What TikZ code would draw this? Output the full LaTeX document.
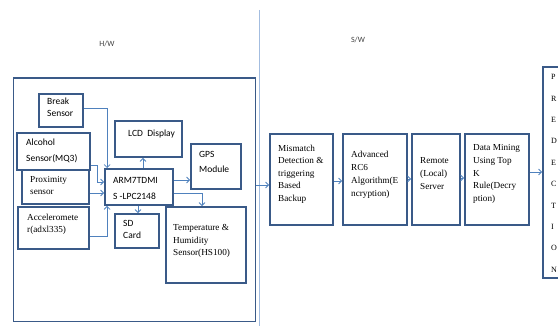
\documentclass[tikz,border=0pt]{standalone}
\usepackage{fontspec}
\setmainfont{Liberation Serif}
\newfontfamily\sansf{Carlito}
\usetikzlibrary{arrows.meta,fit}
\definecolor{boxc}{HTML}{3A5A88}
\definecolor{arrc}{HTML}{4F81BD}
\definecolor{sepc}{HTML}{A3BDE0}
\begin{document}
\begin{tikzpicture}[x=1pt,y=-1pt,
 box/.style={draw=boxc,line width=1.8pt,fill=white,inner sep=0pt},
 sft/.style={font=\sansf\fontsize{9.5}{12}\selectfont,align=left,inner sep=0pt,anchor=north west},
 rmt/.style={font=\fontsize{9.2}{12.5}\selectfont,align=left,inner sep=0pt,anchor=north west},
 lbl/.style={font=\sansf\fontsize{8}{10}\selectfont,text=black!75,inner sep=0pt},
 arr/.style={draw=arrc,line width=0.8pt,-{Straight Barb[length=3pt,width=6pt]}}]
\useasboundingbox (0,0) rectangle (558,326);
\clip (0,0) rectangle (558,326);

% section labels and separator
\node[lbl] (hwl) at (107,44) {H/W};
\node[lbl] (swl) at (358,40) {S/W};
\coordinate (septop) at (259.5,10);
\coordinate (sepbot) at (259.5,330);
\draw[sepc,line width=1.5pt] (septop) -- (sepbot);

% hardware
\node[box,fit={(13.5,78) (255.5,321.5)}] (hw) {};
\node[box,fit={(39,94) (83,127)}] (brk) {};
\node[box,fit={(115,121) (182,157)}] (lcd) {};
\node[box,fit={(22,165) (89,204)}] (prox) {};
\node[box,fit={(17,133) (90,170)}] (alc) {};
\node[box,fit={(18,207) (89,249)}] (acc) {};
\node[box,fit={(105,169) (173,205)}] (arm) {};
\node[box,fit={(191,144) (241,189)}] (gps) {};
\node[box,fit={(115,214) (159,248)}] (sd) {};
\node[box,fit={(166,207) (246,283)}] (tmp) {};

\node[sft] (brkt) at (47,98) {Break\\Sensor};
\node[sft] (lcdt) at (128,130) {LCD\ \ Display};
\node[sft,font=\sansf\fontsize{9.5}{16}\selectfont] (alct) at (26,139) {Alcohol\\Sensor(MQ3)};
\node[rmt,font=\fontsize{9.2}{12}\selectfont] (proxt) at (30,176.5) {Proximity\\sensor};
\node[rmt,font=\fontsize{9.2}{12}\selectfont] (acct) at (27,213.5) {Acceleromete\\r(adxl335)};
\node[sft,font=\sansf\fontsize{9.5}{16}\selectfont] (armt) at (113,177) {ARM7TDMI\\S -LPC2148};
\node[sft,font=\sansf\fontsize{9.5}{15}\selectfont] (gpst) at (199,151) {GPS\\Module};
\node[sft] (sdt) at (123,220) {SD\\Card};
\node[rmt] (tmpt) at (173,224.5) {Temperature \&\\Humidity\\Sensor(HS100)};

\draw[arr] (brk.east |- 0,108) -| ([xshift=3pt]arm.north west);
\draw[arr] (alc.east |- 0,165) -- (97,165) |- (arm.west |- 0,182);
\draw[arr] (prox.east |- 0,193) -- (arm.west |- 0,193);
\draw[arr] (acc.east |- 0,236) -| ([xshift=3pt]arm.south west);
\draw[arr] (arm.north -| 143,0) -- (lcd.south -| 143,0);
\draw[arr] (arm.east |- 0,180) -- (gps.west |- 0,180);
\draw[arr] (arm.east |- 0,193) -| (tmp.north -| 202,0);
\draw[arr] (arm.south -| 138,0) -- (sd.north -| 138,0);

% software
\node[box,fit={(270,134) (333,225)}] (mm) {};
\node[box,fit={(343,134) (407,225)}] (rc) {};
\node[box,fit={(412,134) (460,225)}] (rem) {};
\node[box,fit={(465,134) (529,225)}] (dm) {};
\node[box,fit={(543,67) (575,278)}] (pred) {};

\node[rmt] (mmt) at (278,144.5) {Mismatch\\Detection \&\\triggering\\Based\\Backup};
\node[rmt,font=\fontsize{9.2}{13}\selectfont] (rct) at (351,150.5) {Advanced\\RC6\\Algorithm(E\\ncryption)};
\node[rmt,font=\fontsize{9.2}{13}\selectfont] (remt) at (420,157.5) {Remote\\(Local)\\Server};
\node[rmt,font=\fontsize{9.2}{12.7}\selectfont] (dmt) at (473,144.5) {Data Mining\\Using Top\\K\\Rule(Decry\\ption)};
\node[rmt,font=\fontsize{8}{21.4}\selectfont] (predt) at (551,74.3) {P\\R\\E\\D\\E\\C\\T\\I\\O\\N};

\draw[arr] (hw.east |- 0,185) -- (mm.west |- 0,185);
\draw[arr] (mm.east |- 0,181) -- (rc.west |- 0,181);
\draw[arr] (rc.east |- 0,179) -- (rem.west |- 0,179);
\draw[arr] (rem.east |- 0,178) -- (dm.west |- 0,178);
\draw[arr] (dm.east |- 0,172) -- (pred.west |- 0,172);
\end{tikzpicture}
\end{document}
